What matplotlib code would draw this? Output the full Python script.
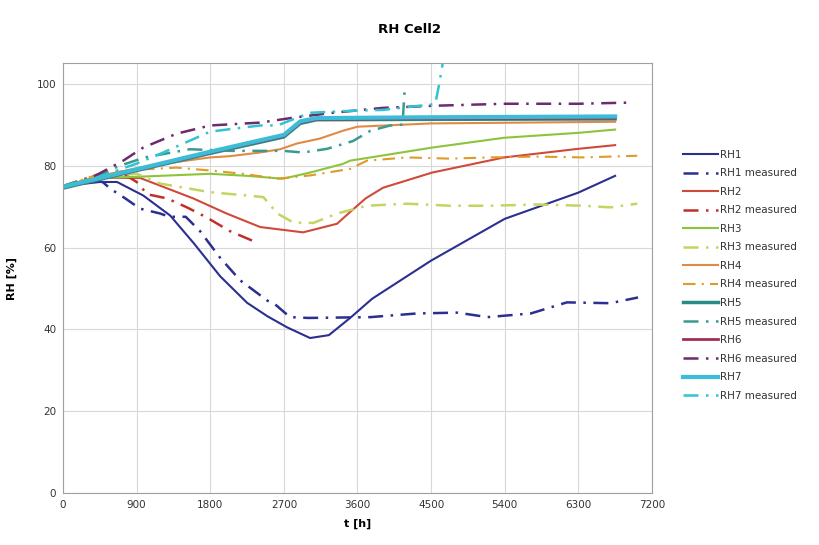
import numpy as np
import matplotlib
matplotlib.use('Agg')
import matplotlib.pyplot as plt

# simulated RH (solid) and measured RH (dash-dot), cell 2
t_rh1 = [0, 450, 660, 980, 1310, 1600, 1800, 1920, 2250, 2500, 2740, 3020, 3250, 3510, 3780, 4500, 5400, 6300, 6750]
rh1 = [75, 76, 76, 72.7, 67.8, 61, 56, 53, 46.5, 43.2, 40.5, 37.9, 38.6, 42.8, 47.5, 56.8, 67, 73.4, 77.5]
t_rh1m = [0, 400, 490, 575, 760, 940, 1187, 1300, 1500, 1675, 1920, 2165, 2500, 2570, 2775, 3000, 3757, 4330, 4820, 5190, 5720, 6160, 6690, 7030]
rh1m = [75, 76.5, 75.9, 74.4, 72, 69.5, 68.3, 67.5, 67.5, 64, 57.5, 52, 47, 46.5, 43, 42.8, 43, 43.9, 44.1, 43, 43.9, 46.6, 46.4, 47.8]

t_rh2 = [0, 450, 940, 1590, 2000, 2410, 2935, 3350, 3500, 3700, 3913, 4513, 5394, 6300, 6750]
rh2 = [75, 77, 77, 72, 68.3, 65, 63.7, 65.8, 68.5, 72, 74.6, 78.3, 82, 84.1, 85]
t_rh2m = [0, 450, 700, 900, 1030, 1270, 1515, 1760, 2040, 2370]
rh2m = [75, 78, 78.5, 76, 73, 72, 69.8, 67.3, 64, 61.2]

t_rh3 = [0, 450, 940, 1800, 2250, 2690, 3020, 3420, 3509, 4513, 5394, 6300, 6750]
rh3 = [75, 77, 77.3, 78, 77.5, 76.8, 78.3, 80.4, 81.2, 84.4, 86.8, 88, 88.8]
t_rh3m = [0, 450, 900, 1190, 1800, 2250, 2450, 2620, 2815, 3060, 3350, 3715, 4205, 4730, 5220, 5795, 6360, 6690, 7020]
rh3m = [75, 77.5, 78, 75.6, 73.5, 72.7, 72.3, 68.3, 66.1, 66, 68.3, 70.2, 70.7, 70.2, 70.2, 70.5, 70.2, 69.8, 70.7]

t_rh4 = [0, 450, 940, 1430, 1800, 2040, 2410, 2655, 2860, 3140, 3420, 3600, 4500, 6750]
rh4 = [75, 77.5, 79.5, 81, 82, 82.3, 83.2, 84, 85.4, 86.6, 88.5, 89.5, 90.3, 90.7]
t_rh4m = [0, 450, 900, 1390, 1800, 2200, 2620, 3020, 3510, 3715, 4205, 4730, 5220, 5795, 6360, 7020]
rh4m = [75, 78, 79, 79.5, 78.8, 78, 76.8, 77.6, 79.2, 81.2, 82, 81.7, 82, 82.2, 82, 82.4]

t_bundle = [0, 900, 1800, 2700, 2900, 3100, 4500, 6750]
rh5 = [74.5, 78.8, 83, 87, 90.3, 91.2, 91.3, 91.4]
rh6 = [74.6, 78.9, 83.2, 87.2, 90.5, 91.3, 91.5, 91.6]
rh7 = [74.8, 79.1, 83.4, 87.5, 90.8, 91.6, 91.8, 92]

t_rh5m = [0, 400, 700, 1000, 1550, 2040, 2450, 2690, 2935, 3230, 3545, 3757, 4000, 4150, 4180]
rh5m = [75, 77.5, 80, 82, 84, 83.6, 83.6, 83.6, 83.2, 84.1, 86, 88.5, 89.8, 90, 99.5]
t_rh6m = [0, 300, 735, 980, 1390, 1800, 2410, 2815, 3300, 3913, 4513, 5394, 6300, 6960]
rh6m = [75, 76.5, 81.2, 84.4, 87.8, 89.8, 90.5, 91.7, 92.9, 94.1, 94.6, 95.1, 95.1, 95.4]
t_rh7m = [0, 400, 900, 1190, 1800, 2410, 2620, 3020, 3545, 3913, 4300, 4550, 4600, 4650]
rh7m = [75, 77, 80.5, 82.9, 88.3, 89.8, 89.8, 92.9, 93.4, 93.6, 94.5, 95, 100, 106]

series = [
    ('RH1', t_rh1, rh1, '#2b2f8f', 1.5, '-'),
    ('RH1 measured', t_rh1m, rh1m, '#2b2f8f', 1.8, 'dd'),
    ('RH2', t_rh2, rh2, '#d04a3a', 1.5, '-'),
    ('RH2 measured', t_rh2m, rh2m, '#c0302a', 1.8, 'dd'),
    ('RH3', t_rh3, rh3, '#8cc43c', 1.5, '-'),
    ('RH3 measured', t_rh3m, rh3m, '#c4d460', 1.8, 'dd'),
    ('RH4', t_rh4, rh4, '#e08a45', 1.5, '-'),
    ('RH4 measured', t_rh4m, rh4m, '#e09a28', 1.5, 'dd'),
    ('RH5', t_bundle, rh5, '#2a8a86', 2.5, '-'),
    ('RH5 measured', t_rh5m, rh5m, '#3a9a90', 1.8, 'dd'),
    ('RH6', t_bundle, rh6, '#a03050', 2.0, '-'),
    ('RH6 measured', t_rh6m, rh6m, '#6e2a6e', 1.8, 'dd'),
    ('RH7', t_bundle, rh7, '#3cbcd8', 3.0, '-'),
    ('RH7 measured', t_rh7m, rh7m, '#30c4d0', 1.8, 'dd'),
]

fig = plt.figure(figsize=(8.19, 5.45), dpi=100)
ax = fig.add_axes([0.077, 0.095, 0.719, 0.789])

for label, t, v, c, lw, ls in series:
    if ls == 'dd':
        ax.plot(t, v, color=c, lw=lw, linestyle=(0, (6, 3, 1, 3)), label=label)
    else:
        ax.plot(t, v, color=c, lw=lw, label=label)

ax.set_xlim(0, 7200)
ax.set_ylim(0, 105)
ax.set_xticks(np.arange(0, 7201, 900))
ax.set_yticks(np.arange(0, 101, 20))
ax.grid(True, color='#d8d8d8', lw=0.8)
ax.set_axisbelow(True)
for s in ax.spines.values():
    s.set_color('#a0a0a0')
ax.tick_params(length=0, labelsize=7.5, colors='#333333', pad=5)

ax.set_xlabel('t [h]', fontsize=8, fontweight='bold', labelpad=6)
ax.set_ylabel('RH [%]', fontsize=8, fontweight='bold', labelpad=14)
fig.suptitle('RH Cell2', fontsize=9.5, fontweight='bold', y=0.958)

fig.legend(loc='center left', bbox_to_anchor=(0.822, 0.495), frameon=False,
           fontsize=7.5, labelspacing=0.82, handlelength=3.4, handletextpad=0.2,
           labelcolor='#333333')

fig.savefig('out.png', dpi=100)
